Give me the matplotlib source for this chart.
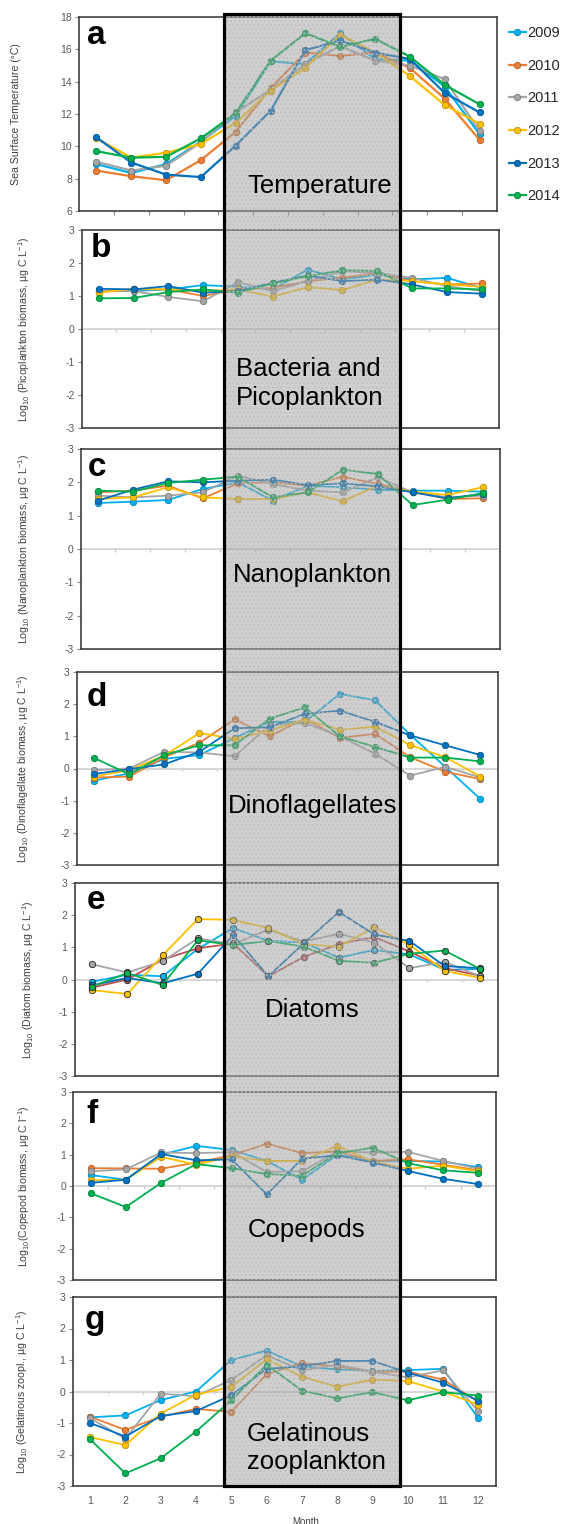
import matplotlib
matplotlib.use('Agg')
import matplotlib.pyplot as plt
from matplotlib.patches import Rectangle
import numpy as np

plt.rcParams['font.family'] = ['Liberation Sans', 'DejaVu Sans']
plt.rcParams['mathtext.fontset'] = 'custom'
plt.rcParams['mathtext.rm'] = 'Liberation Sans'
plt.rcParams['mathtext.it'] = 'Liberation Sans:italic'
plt.rcParams['mathtext.bf'] = 'Liberation Sans:bold'
plt.rcParams['axes.unicode_minus'] = False
plt.rcParams['hatch.linewidth'] = 0.6

# ---------------- data ----------------
months = list(range(1, 13))
years = ['2009', '2010', '2011', '2012', '2013', '2014']
colors = ['#00B0F0', '#ED7D31', '#A5A5A5', '#FFC000', '#0070C0', '#00B050']
colors_diatom = ['#00B0F0', '#C0504D', '#A5A5A5', '#FFC000', '#0070C0', '#00B050']

temperature = [
    [8.9, 8.35, 8.9, 10.3, 11.9, 15.25, 15.1, 17.0, 15.4, 15.3, 13.7, 10.75],
    [8.5, 8.15, 7.9, 9.15, 10.9, 13.6, 15.8, 15.6, 15.8, 14.85, 12.95, 10.4],
    [9.05, 8.5, 8.8, 10.25, 12.1, 13.5, 15.1, 16.2, 15.3, 15.0, 14.15, 10.95],
    [10.5, 9.3, 9.6, 10.15, 11.45, 13.45, 14.85, 16.9, 15.8, 14.35, 12.55, 11.4],
    [10.55, 9.0, 8.25, 8.1, 10.05, 12.2, 15.95, 16.55, 15.8, 15.4, 13.3, 12.1],
    [9.7, 9.3, 9.35, 10.5, 12.05, 15.3, 17.0, 16.15, 16.65, 15.55, 13.8, 12.6],
]
picoplankton = [
    [1.15, 1.15, 1.2, 1.33, 1.28, 1.2, 1.8, 1.5, 1.65, 1.5, 1.55, 1.25],
    [1.15, 1.2, 1.2, 1.0, 1.2, 1.25, 1.45, 1.55, 1.7, 1.45, 1.35, 1.38],
    [1.15, 1.15, 0.97, 0.84, 1.42, 1.15, 1.45, 1.75, 1.7, 1.55, 1.3, 1.15],
    [1.1, 1.22, 1.2, 1.15, 1.2, 0.98, 1.27, 1.18, 1.5, 1.45, 1.35, 1.28],
    [1.22, 1.2, 1.3, 1.1, 1.15, 1.4, 1.62, 1.45, 1.5, 1.35, 1.12, 1.07],
    [0.93, 0.94, 1.12, 1.2, 1.1, 1.38, 1.6, 1.78, 1.76, 1.23, 1.23, 1.2],
]
nanoplankton = [
    [1.38, 1.42, 1.47, 1.8, 2.0, 1.45, 1.9, 1.85, 1.78, 1.75, 1.75, 1.72],
    [1.7, 1.75, 1.9, 1.52, 1.97, 2.0, 1.9, 2.17, 1.95, 1.72, 1.5, 1.52],
    [1.6, 1.55, 1.6, 1.7, 2.2, 1.95, 1.75, 1.7, 2.15, 1.7, 1.55, 1.6],
    [1.5, 1.55, 1.85, 1.55, 1.5, 1.5, 1.7, 1.43, 1.9, 1.72, 1.62, 1.85],
    [1.45, 1.78, 2.03, 2.0, 2.05, 2.08, 1.92, 1.97, 1.88, 1.7, 1.52, 1.65],
    [1.75, 1.72, 1.98, 2.08, 2.17, 1.55, 1.7, 2.38, 2.25, 1.32, 1.48, 1.67],
]
dinoflagellates = [
    [-0.38, -0.15, 0.3, 0.42, 0.95, 1.45, 1.45, 2.32, 2.12, 1.05, 0.05, -0.95],
    [-0.28, -0.25, 0.35, 0.8, 1.53, 1.0, 1.55, 0.95, 1.08, 0.35, -0.1, -0.33],
    [-0.05, 0.0, 0.52, 0.5, 0.38, 1.35, 1.42, 1.0, 0.46, -0.22, 0.05, -0.28],
    [-0.25, -0.05, 0.4, 1.1, 0.92, 1.18, 1.52, 1.2, 1.3, 0.73, 0.35, -0.25],
    [-0.17, -0.02, 0.13, 0.52, 1.25, 1.28, 1.7, 1.8, 1.45, 1.03, 0.72, 0.42],
    [0.33, -0.18, 0.42, 0.72, 0.72, 1.55, 1.9, 1.0, 0.67, 0.34, 0.34, 0.22],
]
diatoms = [
    [-0.07, 0.15, 0.1, 0.95, 1.6, 1.2, 1.15, 0.68, 0.92, 0.78, 0.3, 0.33],
    [-0.25, 0.0, 0.62, 0.97, 1.12, 0.1, 0.7, 1.1, 1.32, 0.87, 0.35, 0.12],
    [0.47, 0.22, 0.57, 1.28, 1.1, 1.55, 1.18, 1.42, 1.15, 0.35, 0.55, 0.1],
    [-0.33, -0.45, 0.75, 1.88, 1.85, 1.6, 1.1, 1.02, 1.62, 1.08, 0.27, 0.05],
    [-0.18, 0.05, -0.12, 0.18, 1.38, 0.1, 1.12, 2.1, 1.4, 1.2, 0.42, 0.35],
    [-0.22, 0.2, -0.17, 1.22, 1.07, 1.2, 1.02, 0.58, 0.52, 0.8, 0.9, 0.33],
]
copepods = [
    [0.35, 0.2, 1.0, 1.28, 1.15, 0.8, 0.2, 1.0, 0.8, 0.8, 0.78, 0.6],
    [0.57, 0.56, 0.55, 0.75, 0.98, 1.35, 1.05, 1.1, 0.8, 0.85, 0.68, 0.5],
    [0.47, 0.53, 1.07, 1.05, 1.08, 0.45, 0.47, 1.1, 1.07, 1.09, 0.8, 0.55],
    [0.18, 0.2, 0.93, 0.68, 0.95, 0.8, 0.8, 1.28, 0.78, 0.55, 0.65, 0.47],
    [0.1, 0.2, 1.02, 0.82, 0.85, -0.27, 0.87, 0.98, 0.75, 0.48, 0.23, 0.06],
    [-0.23, -0.67, 0.1, 0.7, 0.57, 0.38, 0.33, 1.05, 1.22, 0.73, 0.5, 0.42],
]
gelatinous = [
    [-0.82, -0.76, -0.27, 0.0, 1.0, 1.3, 0.8, 0.7, 0.65, 0.68, 0.72, -0.85],
    [-0.8, -1.22, -0.8, -0.55, -0.65, 0.55, 0.9, 0.8, 0.63, 0.63, 0.38, -0.33],
    [-0.85, -1.5, -0.07, -0.15, 0.37, 1.15, 0.67, 0.85, 0.63, 0.45, 0.67, -0.63],
    [-1.45, -1.7, -0.7, -0.1, 0.15, 1.02, 0.47, 0.15, 0.38, 0.33, 0.0, -0.42],
    [-1.0, -1.43, -0.78, -0.62, -0.12, 0.72, 0.8, 0.97, 0.97, 0.6, 0.28, -0.3],
    [-1.52, -2.6, -2.12, -1.27, -0.28, 0.85, 0.03, -0.22, -0.02, -0.28, -0.02, -0.13],
]

panel_letters = ['a', 'b', 'c', 'd', 'e', 'f', 'g']
panel_titles = ['Temperature', 'Bacteria and\nPicoplankton', 'Nanoplankton',
                'Dinoflagellates', 'Diatoms', 'Copepods', 'Gelatinous\nzooplankton']
ylabels = ['Sea Surface Temperature (°C)',
           'Log$_{10}$ (Picoplankton biomass, µg C L$^{-1}$)',
           'Log$_{10}$ (Nanoplankton biomass, µg C L$^{-1}$)',
           'Log$_{10}$ (Dinoflagellate biomass, µg C L$^{-1}$)',
           'Log$_{10}$ (Diatom biomass, µg C L$^{-1}$)',
           'Log$_{10}$(Copepod biomass, µg C l$^{-1}$)',
           'Log$_{10}$ (Gelatinous zoopl., µg C L$^{-1}$)']
datasets = [temperature, picoplankton, nanoplankton, dinoflagellates, diatoms, copepods, gelatinous]
month_labels = [str(m) for m in months]

# ---------------- layout (pixels) ----------------
W, H = 563, 1524
fig = plt.figure(figsize=(W / 100, H / 100), dpi=100)

# left, right, top, bottom in pixels
panel_px = [(79, 497, 17, 211), (81.5, 499, 230, 428), (80.5, 500, 449, 649),
            (76.5, 498, 672, 865), (74.5, 497.5, 883, 1076), (73, 496, 1092, 1280),
            (72.5, 496, 1297, 1486)]
ylabel_x = [16, 24, 24, 23, 28, 24, 22]
letter_dx = [8, 9, 7, 10, 12, 13, 12]
letter_dy = [3, 3, 3, 10, 2, 7, 8]
title_x = [320, 310, 312, 313, 312, 307, 316]
title_y = [0.091, 0.116, 0.334, 0.268, 0.304, 0.227, 0.088]
box_px = (224, 400, 14, 1486)

spine_col = '#404040'
tick_col = '#8c8c8c'
label_col = '#595959'

axes = []
for i, (l, r, t, b) in enumerate(panel_px):
    ax = fig.add_axes([l / W, 1 - b / H, (r - l) / W, (b - t) / H])
    axes.append(ax)
    data = datasets[i]
    cols = colors_diatom if i == 4 else colors
    lw = 1.6 if i == 0 else 1.3
    for j, yr in enumerate(years):
        c = cols[j]
        if i == 4:
            edge = '#262626'
        else:
            edge = tuple(v * 0.75 for v in matplotlib.colors.to_rgb(c))
        ax.plot(months, data[j], color=c, lw=lw, marker='o', ms=4.6,
                markerfacecolor=c, markeredgecolor=edge, markeredgewidth=0.6,
                label=yr, zorder=3 + j)
    ax.set_xlim(0.5, 12.5)
    for s in ax.spines.values():
        s.set_color(spine_col)
        s.set_linewidth(1.2)
    if i == 0:
        ax.set_ylim(6, 18)
        ax.set_yticks(np.arange(6, 19, 2))
        ax.set_xticks(np.arange(1.5, 12.5, 1))
        ax.tick_params(axis='x', direction='out', length=3, color=tick_col, labelbottom=False)
    else:
        ax.set_ylim(-3, 3)
        ax.set_yticks(np.arange(-3, 4, 1))
        ax.axhline(0, color='#d0d0d0', lw=1.2, zorder=1)
        ax.vlines(np.arange(1.5, 12.5, 1), -0.09, 0, color='#c8c8c8', lw=0.9, zorder=1)
        if i == 6:
            ax.set_xticks(months)
            ax.set_xticklabels(month_labels)
            ax.tick_params(axis='x', length=0, pad=7, labelsize=7.5, labelcolor=label_col)
        else:
            ax.set_xticks([])
    ax.tick_params(axis='y', direction='out', length=3, width=0.8, color=tick_col,
                   labelsize=7.5, labelcolor=label_col, pad=2)
    # panel letter
    ax.text(letter_dx[i] / (r - l), 1 - letter_dy[i] / (b - t), panel_letters[i],
            transform=ax.transAxes, fontsize=24, fontweight='bold', ha='left', va='top',
            color='black', zorder=10)
    # y label
    fig.text(ylabel_x[i] / W, 1 - (t + b) / 2 / H, ylabels[i], rotation=90,
             ha='center', va='center', fontsize=7.6, color='#404040')

# shaded box over the summer months
bx0, bx1, by0, by1 = box_px
rect_kw = dict(xy=(bx0 / W, 1 - by1 / H), width=(bx1 - bx0) / W, height=(by1 - by0) / H,
               transform=fig.transFigure)
fig.add_artist(Rectangle(**rect_kw, facecolor='#a0a0a0', alpha=0.5, edgecolor='none', zorder=5))
fig.add_artist(Rectangle(**rect_kw, facecolor='none', edgecolor='#bdbdbd', hatch='....',
                         linewidth=0, zorder=6))
fig.add_artist(Rectangle(**rect_kw, facecolor='none', edgecolor='black', linewidth=2.3, zorder=7))

# category titles (on top of box)
for i, (l, r, t, b) in enumerate(panel_px):
    yfig = 1 - b / H + title_y[i] * (b - t) / H
    fig.text(title_x[i] / W, yfig, panel_titles[i], fontsize=18.5, ha='center',
             va='baseline', multialignment='left', linespacing=1.25, color='black', zorder=10)

# legend
handles = axes[0].get_lines()
leg = fig.legend(handles, years, loc='upper left', bbox_to_anchor=(509 / W, 1 - 26 / H),
                 frameon=False, fontsize=10.5, handlelength=1.15, handletextpad=0.1,
                 labelspacing=1.28, borderpad=0, borderaxespad=0)
for txt in leg.get_texts():
    txt.set_color('#262626')

fig.text(306 / W, 1 - 1517 / H, 'Month', ha='center', va='top', fontsize=7, color='#404040')

fig.savefig('out.png', dpi=100)
